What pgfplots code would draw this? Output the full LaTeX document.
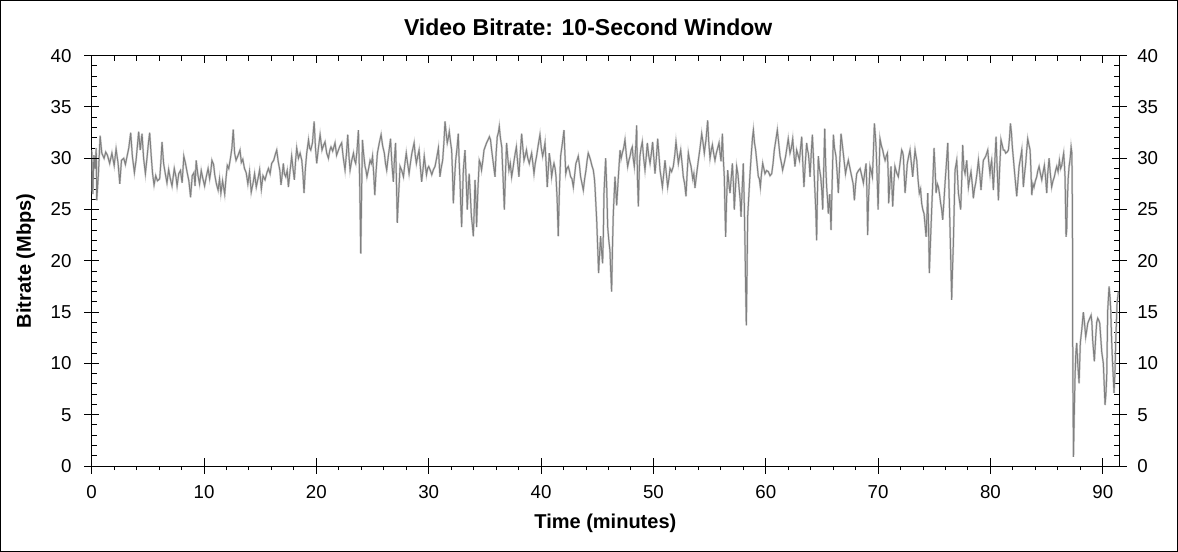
\documentclass[border=0pt]{standalone}
\usepackage{fontspec}
\setmainfont{Liberation Sans}
\usepackage{pgfplots}
\usepackage{pgfplotstable}
\pgfplotsset{compat=1.18}

% bitrate in Mbps against time in minutes
\pgfplotstableread{
t v
0.0 30.8
0.1 26.5
0.2 30.3
0.3 29.0
0.4 31.0
0.45 25.9
0.6 28.5
0.75 32.2
0.9 30.5
1.1 30.0
1.25 30.6
1.4 30.3
1.6 29.5
1.8 30.5
2.0 29.3
2.17 30.9
2.35 29.5
2.5 27.5
2.65 29.8
2.85 30.0
3.0 29.4
3.15 30.2
3.3 31.0
3.47 32.5
3.62 30.2
3.8 28.6
3.95 29.8
4.05 31.0
4.18 32.6
4.32 30.8
4.48 32.4
4.62 30.0
4.78 28.5
4.92 30.0
5.05 31.5
5.16 32.5
5.3 30.2
5.42 28.5
5.55 27.4
5.7 28.3
5.85 27.8
6.05 28.0
6.15 29.5
6.26 31.6
6.4 29.5
6.55 28.5
6.7 27.6
6.85 28.9
7.0 28.0
7.15 27.3
7.35 29.0
7.5 28.2
7.6 27.3
7.75 28.5
7.9 28.8
8.05 27.6
8.2 30.2
8.35 29.5
8.5 28.6
8.65 27.8
8.8 26.2
8.95 28.3
9.1 28.6
9.2 27.3
9.3 29.8
9.45 28.4
9.6 27.5
9.75 28.8
9.9 28.0
10.05 27.3
10.2 28.2
10.36 29.0
10.5 28.0
10.6 28.7
10.7 29.8
10.85 29.4
10.95 28.4
11.1 27.5
11.25 26.9
11.38 28.0
11.5 26.6
11.65 27.8
11.84 26.5
11.95 28.0
12.07 29.3
12.2 29.0
12.35 30.0
12.48 31.0
12.6 32.8
12.72 30.5
12.85 29.8
13.0 30.2
13.2 30.8
13.32 29.6
13.45 29.9
13.6 29.0
13.75 28.6
13.9 27.5
14.05 28.7
14.2 26.7
14.35 27.5
14.5 28.5
14.65 27.2
14.8 28.0
14.95 28.9
15.1 27.0
15.25 28.3
15.43 27.9
15.6 28.6
15.73 29.0
15.88 28.5
16.02 29.5
16.2 29.8
16.35 30.4
16.47 30.8
16.6 29.7
16.75 28.8
16.85 27.4
16.95 28.3
17.06 29.5
17.15 28.5
17.27 28.2
17.4 28.8
17.51 27.2
17.65 28.7
17.8 30.2
17.92 29.0
18.04 27.9
18.15 29.8
18.25 31.0
18.4 30.0
18.55 30.5
18.7 29.8
18.8 28.5
18.9 26.6
19.02 29.0
19.14 30.5
19.3 31.8
19.4 31.0
19.5 30.8
19.65 31.5
19.8 33.6
19.92 31.0
20.03 29.5
20.18 31.0
20.33 32.3
20.5 30.8
20.65 31.3
20.77 31.6
20.92 30.5
21.07 30.0
21.2 30.8
21.3 31.1
21.45 30.7
21.66 31.5
21.8 30.3
21.96 30.8
22.1 31.2
22.25 31.5
22.4 30.0
22.55 28.85
22.68 30.5
22.79 32.3
22.9 30.2
23.0 28.85
23.15 29.8
23.3 30.5
23.4 29.8
23.5 29.5
23.62 30.8
23.74 32.75
23.85 28.0
23.95 20.7
24.03 27.0
24.1 31.8
24.2 30.5
24.33 29.2
24.42 28.8
24.5 28.2
24.65 29.0
24.78 29.8
24.9 29.5
25.0 30.2
25.1 28.5
25.2 26.4
25.3 28.5
25.43 30.5
25.6 31.5
25.76 32.3
25.9 31.2
26.05 30.5
26.15 29.5
26.26 28.85
26.4 30.2
26.5 31.0
26.6 31.9
26.72 29.5
26.85 27.7
26.95 30.0
27.05 31.5
27.15 26.5
27.2 23.7
27.3 26.0
27.45 29.2
27.6 28.8
27.75 28.2
27.88 29.5
28.0 30.5
28.12 29.5
28.25 28.5
28.38 29.6
28.5 30.5
28.6 31.0
28.7 31.5
28.8 30.3
28.9 29.5
29.02 30.2
29.14 30.8
29.25 29.2
29.37 27.7
29.5 29.0
29.6 30.2
29.7 29.3
29.8 28.4
29.9 29.0
30.0 29.2
30.15 28.8
30.27 28.4
30.42 28.9
30.56 29.2
30.7 30.0
30.86 31.0
31.0 28.2
31.1 29.0
31.24 29.8
31.35 31.5
31.45 33.6
31.55 32.5
31.65 31.5
31.75 32.0
31.83 32.6
31.95 31.5
32.04 30.8
32.12 28.5
32.19 25.6
32.3 28.0
32.4 29.8
32.52 31.0
32.63 32.4
32.7 30.0
32.78 27.9
32.85 25.5
32.93 23.3
33.0 26.0
33.08 28.85
33.15 29.8
33.23 30.8
33.33 28.0
33.43 25.0
33.52 27.0
33.6 28.5
33.7 26.5
33.8 24.3
33.88 23.5
33.97 22.4
34.05 25.0
34.12 27.9
34.2 26.0
34.26 23.3
34.38 27.0
34.5 29.8
34.6 29.5
34.7 28.85
34.82 29.8
34.92 30.8
35.05 31.2
35.15 31.5
35.28 31.8
35.4 32.1
35.5 31.8
35.6 30.8
35.75 29.5
35.9 28.2
36.0 30.5
36.1 32.1
36.2 32.5
36.28 33.1
36.38 32.0
36.5 31.1
36.62 28.0
36.73 25.0
36.83 28.5
36.93 31.5
37.04 30.0
37.14 28.85
37.26 29.5
37.38 28.2
37.5 29.0
37.6 29.8
37.7 30.5
37.8 31.1
37.92 29.5
38.03 28.2
38.15 30.5
38.27 32.4
38.38 31.0
38.48 29.8
38.6 30.3
38.7 30.8
38.82 30.0
38.95 29.5
39.05 30.0
39.16 30.5
39.27 29.5
39.37 28.5
39.48 29.5
39.6 30.2
39.75 31.3
39.9 32.3
40.02 31.0
40.14 30.2
40.25 30.8
40.35 31.5
40.45 29.5
40.55 27.2
40.65 29.0
40.73 30.5
40.85 29.5
40.94 28.2
41.05 29.0
41.15 29.5
41.25 29.0
41.33 28.2
41.43 26.0
41.53 22.4
41.62 26.5
41.74 30.2
41.9 31.5
42.04 32.75
42.12 30.5
42.2 28.5
42.3 29.0
42.42 29.2
42.52 28.8
42.63 28.2
42.75 28.0
42.87 27.2
43.0 28.5
43.1 29.5
43.2 29.8
43.31 30.2
43.42 29.3
43.52 28.2
43.65 27.5
43.76 26.9
43.88 28.0
44.0 28.85
44.1 29.8
44.2 30.5
44.3 30.2
44.41 29.8
44.52 29.3
44.65 28.85
44.75 28.0
44.8 27.2
44.88 25.5
44.95 24.0
45.05 21.0
45.12 18.8
45.2 20.5
45.3 22.4
45.38 21.0
45.48 19.75
45.55 23.0
45.6 26.6
45.68 28.5
45.75 30.0
45.85 27.0
45.93 23.3
46.03 22.0
46.13 21.0
46.2 19.0
46.28 17.0
46.36 21.5
46.43 24.6
46.58 28.2
46.73 25.4
46.88 28.2
47.03 30.8
47.13 30.0
47.23 30.5
47.35 31.0
47.47 31.8
47.6 30.2
47.71 29.2
47.82 29.8
47.92 30.2
48.02 30.8
48.12 31.1
48.2 30.0
48.3 29.2
48.42 31.0
48.51 33.2
48.58 28.0
48.66 25.3
48.73 28.5
48.8 30.2
48.9 31.0
49.01 31.6
49.13 30.0
49.25 28.85
49.35 30.0
49.46 31.5
49.58 30.3
49.7 29.5
49.82 30.5
49.93 31.6
50.04 30.0
50.14 28.5
50.26 30.0
50.38 31.9
50.48 30.5
50.59 28.85
50.7 28.0
50.8 27.2
50.92 28.5
51.03 29.8
51.15 28.5
51.27 27.2
51.38 28.0
51.48 29.0
51.62 28.7
51.77 29.2
51.9 30.3
52.01 31.6
52.12 30.5
52.22 29.5
52.33 30.2
52.43 30.8
52.55 29.5
52.66 28.2
52.78 27.5
52.9 26.3
53.0 28.5
53.11 30.5
53.22 29.8
53.35 29.2
53.5 28.0
53.6 28.5
53.7 27.1
53.85 28.5
54.0 29.8
54.15 31.0
54.3 32.4
54.42 31.5
54.53 30.5
54.68 31.8
54.83 33.7
54.93 31.5
55.04 30.0
55.15 30.8
55.25 31.3
55.36 30.5
55.48 29.8
55.6 30.5
55.72 31.0
55.84 31.5
55.93 30.5
56.02 29.7
56.14 32.4
56.22 30.0
56.31 28.2
56.37 25.0
56.43 22.35
56.5 25.5
56.61 28.85
56.72 27.5
56.82 26.6
56.92 28.0
57.03 29.5
57.12 27.5
57.2 25.0
57.3 27.0
57.41 29.2
57.52 28.5
57.62 27.2
57.72 26.0
57.8 24.3
57.9 27.0
58.0 29.5
58.08 26.0
58.15 21.7
58.21 17.5
58.27 13.7
58.33 18.5
58.39 24.3
58.5 26.5
58.6 28.5
58.72 30.5
58.82 32.0
58.9 32.75
59.0 31.5
59.1 30.8
59.22 29.5
59.34 28.2
59.43 28.0
59.52 27.2
59.62 28.5
59.73 29.5
59.83 29.0
59.93 28.5
60.08 28.8
60.23 28.7
60.38 28.3
60.53 28.5
60.65 29.5
60.76 30.8
60.9 31.8
61.03 32.75
61.15 31.5
61.27 30.2
61.4 29.5
61.5 28.85
61.64 29.5
61.77 30.2
61.88 31.0
62.0 31.9
62.16 30.5
62.28 31.0
62.4 31.9
62.5 30.5
62.6 29.2
62.68 30.0
62.75 30.8
62.88 30.3
63.0 29.8
63.1 31.0
63.2 32.1
63.3 29.5
63.4 27.2
63.52 29.5
63.64 31.5
63.72 30.8
63.79 30.5
63.87 29.5
63.94 28.2
64.05 30.5
64.15 32.3
64.25 30.0
64.36 27.2
64.45 25.0
64.53 22.0
64.6 26.5
64.68 30.2
64.78 29.0
64.89 28.2
64.98 27.0
65.07 25.0
65.16 29.0
65.25 32.9
65.33 29.5
65.42 27.2
65.5 26.0
65.57 24.6
65.7 26.5
65.81 23.0
65.92 28.0
66.02 32.3
66.12 31.0
66.25 30.2
66.36 28.5
66.46 26.6
66.58 29.5
66.7 32.4
66.8 31.5
66.9 30.5
67.0 29.5
67.1 28.5
67.22 29.2
67.35 29.8
67.5 29.0
67.65 28.2
67.78 27.5
67.89 25.9
68.0 27.5
68.1 28.5
68.25 28.8
68.4 29.0
68.55 28.3
68.69 27.6
68.8 28.5
68.93 29.5
69.0 27.0
69.07 22.5
69.15 26.0
69.28 29.2
69.38 28.8
69.49 28.2
69.58 30.5
69.67 33.4
69.75 32.3
69.82 31.1
69.92 28.0
70.0 25.0
70.08 28.5
70.17 31.9
70.3 31.2
70.41 30.8
70.52 30.2
70.62 29.8
70.72 30.2
70.83 30.5
70.9 28.5
70.94 25.6
71.05 27.5
71.15 29.2
71.22 27.5
71.3 25.3
71.4 27.5
71.5 29.2
71.65 28.6
71.8 28.2
71.95 29.5
72.1 30.8
72.18 30.6
72.25 30.2
72.32 28.5
72.4 26.6
72.5 28.0
72.6 29.5
72.72 30.2
72.84 30.8
72.96 29.5
73.08 28.2
73.18 29.5
73.29 30.8
73.36 30.3
73.44 29.8
73.55 28.0
73.67 26.6
73.78 27.0
73.88 25.6
73.98 25.0
74.09 24.6
74.18 23.5
74.27 22.35
74.35 24.5
74.42 26.6
74.5 23.0
74.56 18.8
74.65 21.5
74.77 25.0
74.88 28.0
74.98 31.0
75.07 29.0
75.16 26.6
75.27 27.5
75.37 27.2
75.47 26.5
75.57 25.6
75.66 25.0
75.75 24.0
75.86 25.8
75.96 27.6
76.08 29.5
76.2 31.5
76.3 27.5
76.4 23.3
76.48 19.5
76.55 16.2
76.62 19.0
76.7 21.7
76.78 25.5
76.85 28.85
77.0 29.8
77.07 28.3
77.15 26.6
77.25 25.8
77.35 25.0
77.45 28.0
77.53 31.3
77.64 29.0
77.74 28.5
77.89 29.8
78.04 27.2
78.15 28.0
78.27 28.7
78.38 27.5
78.48 26.1
78.58 27.0
78.69 27.6
78.8 28.5
78.93 29.8
79.05 28.5
79.16 26.9
79.27 28.5
79.37 29.8
79.48 30.0
79.58 30.2
79.67 30.5
79.76 30.8
79.86 29.5
79.96 28.5
80.03 29.3
80.11 29.8
80.18 28.5
80.26 26.9
80.38 29.5
80.5 32.1
80.6 29.0
80.71 25.9
80.82 29.0
80.94 31.8
81.05 31.3
81.15 30.8
81.25 30.8
81.36 30.5
81.48 30.6
81.6 30.8
81.7 32.0
81.78 33.4
81.87 32.5
81.95 31.1
82.04 30.0
82.13 28.85
82.24 27.5
82.34 26.3
82.45 27.8
82.55 29.2
82.67 30.0
82.79 30.8
82.86 29.0
82.93 27.2
83.04 28.5
83.14 29.5
83.23 30.8
83.32 31.9
83.43 31.3
83.53 30.8
83.6 29.0
83.68 26.4
83.78 27.5
83.88 27.2
84.0 27.8
84.12 28.2
84.22 28.8
84.33 29.2
84.45 28.5
84.57 27.9
84.68 28.6
84.8 29.3
84.9 28.2
85.01 26.6
85.1 28.5
85.22 30.0
85.33 28.5
85.45 27.2
85.57 27.8
85.69 28.2
85.8 28.8
85.9 29.2
86.02 28.7
86.14 29.8
86.25 29.0
86.35 29.3
86.44 30.0
86.52 30.5
86.58 29.5
86.64 28.2
86.69 25.0
86.73 22.35
86.79 23.0
86.85 25.9
86.92 28.0
87.0 29.2
87.1 30.0
87.18 31.1
87.25 30.5
87.3 24.3
87.33 10.0
87.39 0.9
87.46 5.0
87.53 8.7
87.6 11.0
87.68 12.0
87.77 10.0
87.89 8.05
88.0 12.0
88.13 13.3
88.27 15.0
88.37 14.0
88.48 12.6
88.57 13.2
88.66 13.9
88.8 14.3
88.96 14.7
89.03 14.0
89.1 12.3
89.25 10.2
89.37 12.6
89.46 14.0
89.55 14.4
89.65 14.2
89.73 13.9
89.82 12.5
89.91 11.1
90.05 10.0
90.2 5.95
90.28 7.0
90.35 8.7
90.44 15.2
90.56 17.5
90.64 16.5
90.71 15.2
90.78 12.5
90.86 10.3
90.94 8.5
91.0 7.1
91.08 9.0
91.15 12.0
91.27 15.9
91.39 17.0
}\bitrate

\definecolor{trace}{HTML}{808080}
\definecolor{halo}{HTML}{D0D0D0}

\pgfplotsset{
  frame/.style={
    at={(0,0)}, anchor=south west,
    scale only axis, width=1027.3bp, height=410.3bp,
    xmin=0, xmax=91.45, ymin=0, ymax=40,
    xtick={0,10,...,90}, ytick={0,5,...,40},
    every tick/.style={black, line width=1bp},
    axis line style={line width=1bp},
    /pgf/number format/assume math mode=true,
    tick label style={font=\fontsize{18.7bp}{21bp}\selectfont, inner sep=0pt},
  },
}

\begin{document}
\begin{tikzpicture}
% outer frame of the picture
\useasboundingbox (-91.7bp,-86bp) rectangle (1086.3bp,466bp);
\draw[line width=1bp] (-91.2bp,-85.5bp) rectangle (1085.8bp,465.5bp);

% data, box, inner ticks on all sides
\begin{axis}[frame,
  tick align=inside, major tick length=7.5bp, minor tick length=5bp,
  minor x tick num=4, minor y tick num=4,
  xtick pos=right, ytick pos=both,
  xticklabels={}, yticklabels={}]
\addplot[halo, line width=2bp] table[x=t, y=v] {\bitrate};
\addplot[trace, line width=1bp] table[x=t, y=v] {\bitrate};
\end{axis}

% bottom and left majors crossing the axis, with labels
\begin{axis}[frame,
  axis line style={draw=none},
  tick align=center, major tick length=15bp,
  minor x tick num=0, minor y tick num=0,
  xtick pos=left, ytick pos=left,
  xticklabel style={anchor=north, yshift=-11.5bp},
  yticklabel style={anchor=east, xshift=-12.5bp},
  xlabel={Time (minutes)}, ylabel={Bitrate (Mbps)},
  every axis x label/.style={at={(axis description cs:0.5,0)}, anchor=center, yshift=-57bp,
    font=\fontsize{20bp}{23bp}\selectfont\bfseries},
  every axis y label/.style={at={([xshift=-66bp]axis description cs:0,0.5)}, anchor=center, rotate=90,
    font=\fontsize{20bp}{23bp}\selectfont\bfseries}]
\end{axis}

% bottom minor ticks outside, right labels
\begin{axis}[frame,
  axis line style={draw=none},
  tick align=outside, major tick length=7.5bp, minor tick length=4bp,
  minor x tick num=4, minor y tick num=0,
  xtick pos=left, ytick pos=right,
  xticklabels={},
  yticklabel pos=right,
  yticklabel style={anchor=west, xshift=10.5bp}]
\end{axis}

\node[font=\fontsize{23bp}{26bp}\selectfont\bfseries] at (496.5bp,439bp) {Video Bitrate: 10-Second Window};
\end{tikzpicture}
\end{document}
